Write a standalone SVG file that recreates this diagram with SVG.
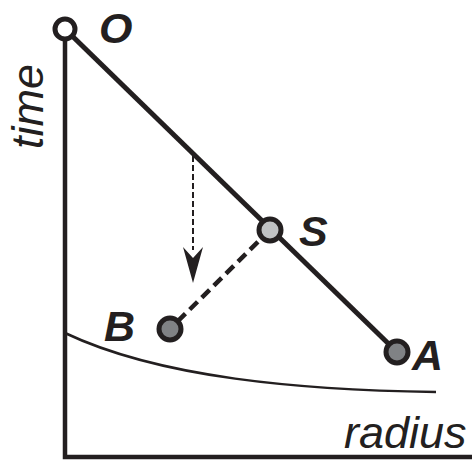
<svg xmlns="http://www.w3.org/2000/svg" width="472" height="460" viewBox="0 0 472 460">
<style>
.ax{fill:none;stroke:#231f20;stroke-width:4.5}
.ln{fill:none;stroke:#231f20;stroke-width:5}
.dash{fill:none;stroke:#231f20;stroke-width:4.5;stroke-dasharray:11 6}
.thin{fill:none;stroke:#231f20;stroke-width:2;stroke-dasharray:6 3}
.curve{fill:none;stroke:#231f20;stroke-width:2.5}
.node{stroke:#231f20;stroke-width:5}
.lbl{font-family:"Liberation Sans",Arial,sans-serif;font-style:italic;font-weight:bold;font-size:43px;fill:#231f20}
.ax-lbl{font-family:"Liberation Sans",Arial,sans-serif;font-style:italic;font-size:45px;fill:#231f20}
</style>
<g id="axes">
<path class="ax" d="M65,38 V457 H472"/>
<text class="ax-lbl" transform="translate(43,149) rotate(-90)">time</text>
<text class="ax-lbl" x="344" y="448">radius</text>
</g>
<g id="curve">
<path class="curve" d="M65,333 C160,378 300,390 436,392"/>
</g>
<g id="connectors">
<path class="ln" d="M65,29 L397,352"/>
<path class="dash" d="M270,230 L170,329"/>
<path class="thin" d="M193,156 V250"/>
<path d="M193,283 L183,247 L193,258 L203,247 Z" fill="#231f20"/>
</g>
<g id="node-O">
<circle class="node" cx="65" cy="29" r="10" fill="#ffffff"/>
<text class="lbl" x="99" y="43">O</text>
</g>
<g id="node-S">
<circle class="node" cx="270" cy="230" r="11" fill="#c0c2c4"/>
<text class="lbl" x="299" y="246">S</text>
</g>
<g id="node-B">
<circle class="node" cx="170" cy="329" r="11" fill="#808285"/>
<text class="lbl" x="104" y="341">B</text>
</g>
<g id="node-A">
<circle class="node" cx="397" cy="352" r="11" fill="#808285"/>
<text class="lbl" x="412" y="370">A</text>
</g>
</svg>
